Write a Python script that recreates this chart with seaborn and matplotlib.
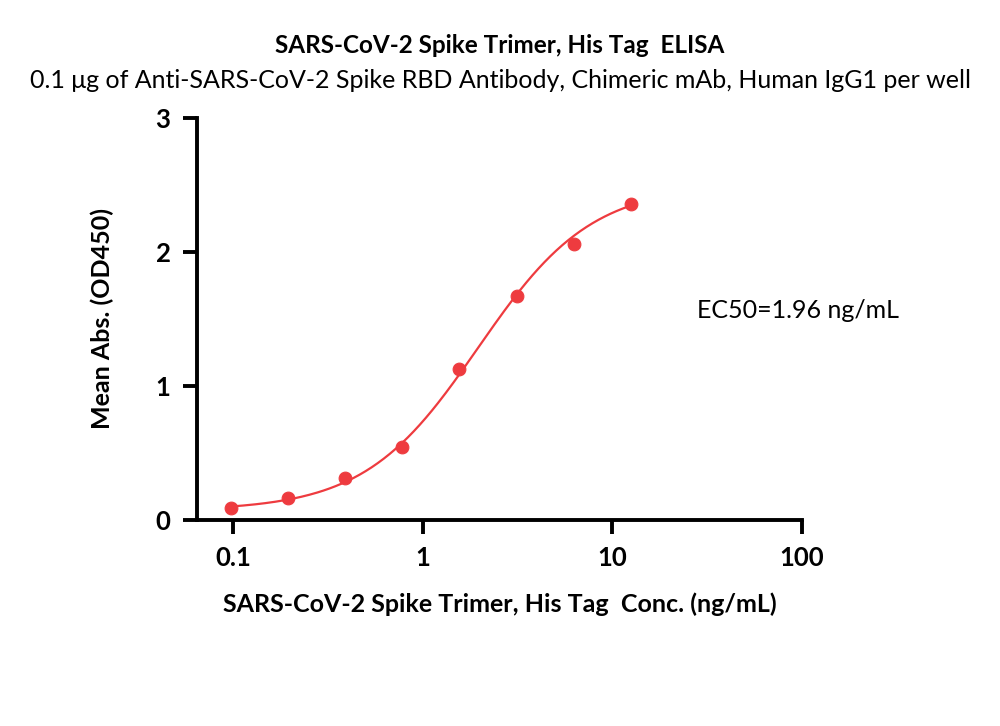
import numpy as np
import pandas as pd
import matplotlib
matplotlib.use('Agg')
import matplotlib.pyplot as plt
import seaborn as sns

# measured points (2-fold dilution series)
conc = [0.0977, 0.1953, 0.3906, 0.7813, 1.5625, 3.125, 6.25, 12.5]
od450 = [0.09, 0.164, 0.31, 0.545, 1.13, 1.67, 2.06, 2.36]

# 4PL fit parameters (EC50 from the chart)
bottom, top, ec50, hill = 0.07, 2.5, 1.96, 1.45

x_ticks = [0.1, 1, 10, 100]
x_ticklabels = ["0.1", "1", "10", "100"]
y_ticks = [0, 1, 2, 3]

red = "#EE3B3F"

sns.set_style("ticks")
plt.rcParams['font.family'] = ['Lato', 'DejaVu Sans']
plt.rcParams['text.color'] = 'black'
plt.rcParams['axes.labelcolor'] = 'black'
plt.rcParams['xtick.color'] = 'black'
plt.rcParams['ytick.color'] = 'black'

fig = plt.figure(figsize=(10, 7.26), dpi=100)
ax = fig.add_axes([0.197, 0.2837, 0.605, 0.554])

xs = np.logspace(np.log10(conc[0]), np.log10(conc[-1]), 200)
fit = pd.DataFrame({"x": xs, "y": bottom + (top - bottom) / (1 + (ec50 / xs) ** hill)})
pts = pd.DataFrame({"x": conc, "y": od450})

sns.lineplot(data=fit, x="x", y="y", ax=ax, color=red, linewidth=1.6)
sns.scatterplot(data=pts, x="x", y="y", ax=ax, color=red, s=85, edgecolor=red, zorder=3)

ax.set_xscale("log")
ax.set_xlim(10 ** -1.19, 100)
ax.set_ylim(0, 3)
ax.set_xticks(x_ticks)
ax.set_xticklabels(x_ticklabels)
ax.set_yticks(y_ticks)
ax.xaxis.set_minor_locator(matplotlib.ticker.NullLocator())

for s in ["top", "right"]:
    ax.spines[s].set_visible(False)
for s in ["left", "bottom"]:
    ax.spines[s].set_linewidth(2.8)
    ax.spines[s].set_color("black")
ax.tick_params(axis="both", width=2.8, length=10, labelsize=18.5, pad=9)
for lbl in ax.get_xticklabels() + ax.get_yticklabels():
    lbl.set_fontweight("bold")

ax.set_xlabel("SARS-CoV-2 Spike Trimer, His Tag  Conc. (ng/mL)", fontsize=18,
              fontweight="bold", labelpad=16)
ax.set_ylabel("Mean Abs. (OD450)", fontsize=18, fontweight="bold", labelpad=30)

ax.text(28.1, 1.56, "EC50=1.96 ng/mL", fontsize=18, ha="left", va="center")

fig.text(0.5, 0.938, "SARS-CoV-2 Spike Trimer, His Tag  ELISA", ha="center", va="center",
         fontsize=17.5, fontweight="bold")
fig.text(0.5, 0.889, "0.1 \u03bcg of Anti-SARS-CoV-2 Spike RBD Antibody, Chimeric mAb, Human IgG1 per well",
         ha="center", va="center", fontsize=18)

fig.savefig("out.png", dpi=100)
